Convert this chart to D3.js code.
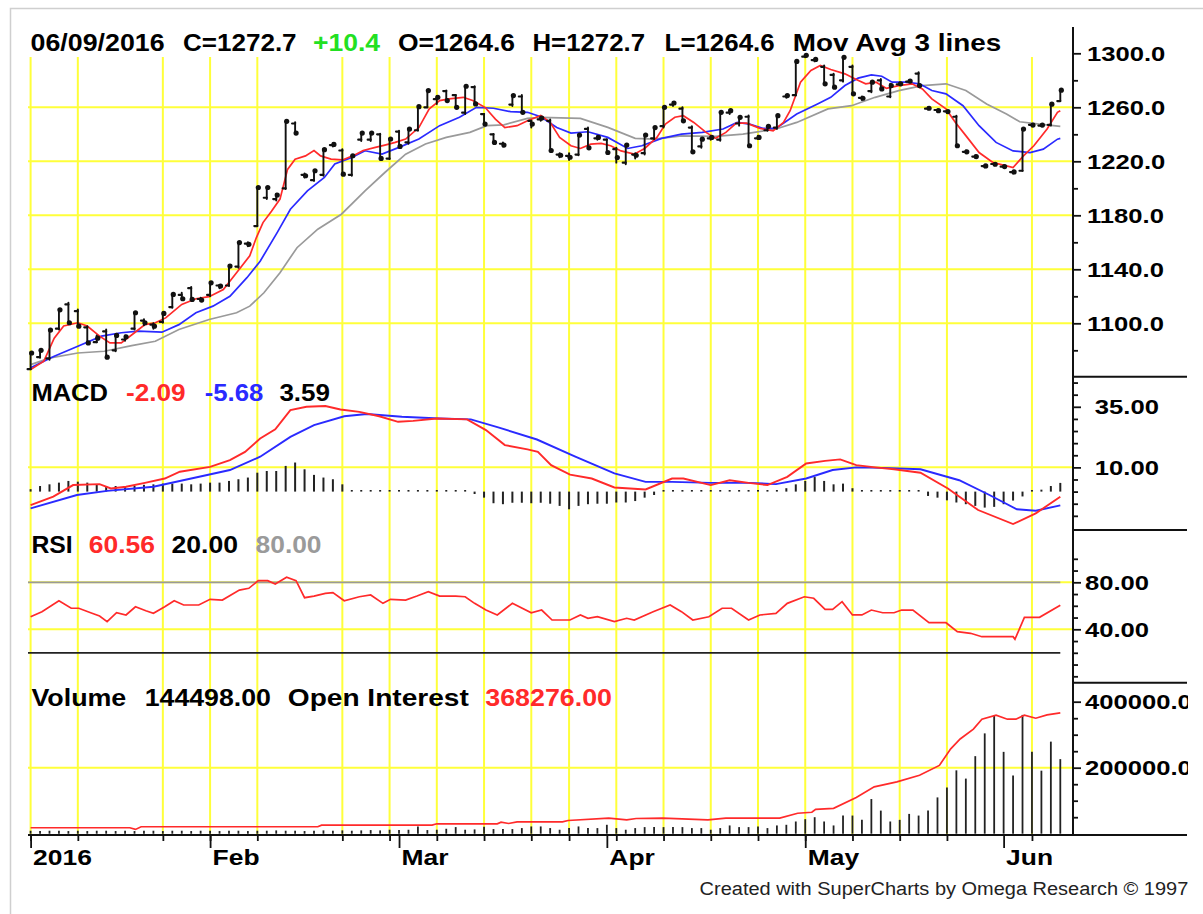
<!DOCTYPE html>
<html>
<head>
<meta charset="utf-8">
<script src="https://cdn.jsdelivr.net/npm/d3@7"></script>
<style>
  body { margin: 0; background: #fff; }
  svg { display: block; font-family: "Liberation Sans", Arial, sans-serif; }
</style>
</head>
<body>
<svg id="chart" width="1203" height="914"></svg>
<script>
// ---- daily bars, 04 Jan 2016 .. 09 Jun 2016 (trading-day index 0..109)
const opens = [1066,1075,1074,1096,1114,1109,1097,1086,1094,1080, 1088,1096,1102,1099,1101,1112,1121,1126,1118,1121,
  1128,1128,1142,1159,1172,1193,1192,1200,1248,1210, 1206,1210,1232,1228,1210,1236,1236,1240,1222,1242,
  1234,1243,1260,1266,1272,1269,1256,1275,1255,1240, 1233,1262,1268,1250,1251,1250,1225,1224,1225,1244,
  1237,1236,1229,1219,1225,1226,1237,1246,1262,1259, 1245,1231,1237,1236,1256,1248,1253,1237,1243,1245,
  1268,1269,1297.5,1295,1290,1284,1280,1290,1267,1272, 1280,1268,1277,1279,1285,1259,1258,1257,1253,1227,
  1223.5,1216.5,1218,1216,1212,1213,1247,1246.5,1247,1264.6];
const highs = [1078,1080.5,1095.4,1110.3,1115.2,1110.3,1097.9,1091,1095.4,1091.5, 1091,1108,1103,1100,1108,1121.4,1122.6,1127,1119,1130,
  1128.5,1143,1160,1160,1201,1201,1196,1249.6,1249,1211, 1213.5,1229,1233.5,1229,1224.5,1241,1241,1240.5,1236.5,1242.7,
  1243.9,1260.5,1272.4,1268.5,1272.4,1269.2,1275.6,1275.6,1255,1240.2, 1234,1269.2,1269.2,1250,1253,1251,1226,1226,1239.5,1245,
  1239,1236.4,1230,1232.7,1226,1239.4,1245,1260,1264,1260, 1246,1236.4,1238.5,1256.3,1258,1253,1254,1239,1246,1254,
  1269,1294,1299,1296,1291,1284.8,1297.2,1291,1268,1278.6, 1281,1277.4,1278.5,1280,1286,1260,1258.5,1257.5,1253.8,1228,
  1224.5,1217.5,1218.5,1217,1213,1243.9,1247.5,1247.5,1263.2,1272.7];
const lows = [1066,1074.5,1073,1095.4,1100.4,1097.9,1085.5,1086,1074.9,1079.3, 1087,1095.4,1098.5,1096,1100.4,1111.5,1118,1117.7,1116.5,1120,
  1126,1127.6,1141.2,1157,1172,1192,1191,1199.4,1240,1208, 1205.5,1209.3,1231,1210.5,1209.3,1235,1235,1222.1,1221.6,1231,
  1233,1242.7,1260,1262.5,1265,1260,1255,1262.5,1247.6,1234, 1231,1261,1256.3,1245,1250,1228,1223,1221,1224.5,1230,
  1236,1226.5,1219,1217.8,1222,1225,1236.4,1245,1261,1250, 1227,1230,1236,1235.2,1255,1246.4,1231.5,1236.5,1242.6,1244,
  1267,1268.7,1297,1294,1277.4,1275,1279,1270,1265.5,1271.2, 1273.6,1267.4,1276.5,1278.5,1276.1,1258.5,1256.5,1256,1231.5,1226,
  1222.5,1215.5,1217,1215.5,1211,1212.9,1246,1246,1246.4,1264.6];
const closes = [1078,1080,1095,1110,1100.4,1097.9,1085.5,1089,1074.9,1091, 1090,1107.8,1100.4,1097.9,1107.3,1121.4,1118.2,1117.7,1117.2,1130,
  1127.6,1142.4,1159.8,1158.5,1200.6,1200.6,1195,1249.6,1240.9,1209.3, 1213,1228.6,1232.5,1210.5,1224.1,1240.9,1240.9,1222.1,1236.5,1231,
  1243.9,1260.5,1272.4,1267.4,1265,1260,1275.6,1262.5,1247.6,1234, 1232,1268.7,1256.3,1247.6,1252,1228,1224.5,1223,1239.4,1230,
  1237.7,1226.5,1222.8,1232,1224.5,1239.4,1245,1260,1263.2,1250, 1227,1236.4,1237.7,1256.3,1257.5,1252.6,1231.5,1237.7,1245.9,1253.8,
  1268.7,1294,1298.5,1295.5,1277.4,1274.9,1297,1270,1266.7,1278.6, 1273.6,1276.1,1277.4,1279.4,1276.1,1259.3,1257.5,1256.8,1231.5,1227,
  1223.5,1216.6,1217.8,1216.1,1212.1,1243.9,1246.8,1246.8,1262.3,1272.7];

// ---- moving averages, [day index, value]
const maFast = [[0,1065.7],[1.4,1072],[2.5,1089],[3.5,1098],[5,1100.4],[6,1098],[7.3,1090.5],[8.4,1085.5],[9.6,1085.5],[11,1093],
  [12.1,1099],[13.2,1100.4],[14.3,1104],[16,1114],[17.5,1118.2],[18.9,1119.7],[20.4,1125],[21.8,1137.5],[23.2,1150],[23.9,1163.5],
  [24.6,1174.6],[25.5,1183],[26.4,1192],[27.2,1214],[28,1221.6],[29.1,1224],[30,1228],[30.7,1224],[31.8,1221.6],[33,1221],
  [34.1,1224],[35.2,1228],[36.5,1230.3],[37.5,1232],[38.6,1234],[39.7,1236.5],[41.1,1245],[42.2,1258.8],[43.3,1265],[44.3,1266.2],
  [45.8,1267.4],[46.8,1265],[48.1,1260],[49.2,1251.3],[50.2,1245],[51.5,1246.4],[52.6,1250],[54,1254],[55,1248.8],[56,1237.7],
  [57.2,1231.5],[58.2,1229.5],[59.3,1232.7],[60.4,1233.2],[61.4,1231.5],[62.5,1227.7],[63.9,1225.3],[65,1229.5],[66.3,1237.7],[67.2,1247.6],
  [68.2,1252.6],[69.1,1253.8],[70.2,1248.8],[71.5,1241.4],[72.5,1237],[73.6,1241.4],[74.7,1248.3],[75.8,1248.3],[77.2,1244.4],[78.6,1242.6],
  [79.7,1248.8],[80.4,1257.5],[81.5,1278.6],[82.6,1287.3],[83.6,1291],[84.7,1288],[86.2,1284.8],[87.4,1280.6],[88.4,1277.4],[89.5,1278.6],
  [90.6,1274],[91.9,1276],[93.3,1277.4],[94.4,1273.6],[95.4,1266.2],[96.9,1258.8],[97.9,1248.8],[99,1239],[100.4,1226.5],[101.9,1219],
  [103.3,1216.6],[104,1215.3],[105.1,1224],[106.2,1231.5],[107.6,1243.9],[108.7,1256.3],[109,1257.5]];
const maMid = [[0,1067],[2.5,1075.6],[5,1083],[7.5,1090.5],[9.6,1093],[11.4,1094.2],[13.9,1093.4],[15.7,1099],[17.5,1107.8],[19.3,1112.7],
  [21.1,1120],[22.9,1133.8],[24.3,1146],[26.1,1167.2],[27.5,1184.5],[29.3,1198.1],[31.1,1208],[32.2,1218],[34,1222.9],[35.4,1227.8],
  [37.2,1225.3],[39,1230.3],[41.1,1236.5],[43.3,1246.4],[45.4,1252.6],[47.2,1260],[49,1259.3],[50.8,1256.8],[52.6,1256.3],[54,1253],
  [55.7,1245.1],[57.2,1240.9],[59,1241.9],[61.1,1237.7],[63.2,1229.5],[64.7,1231.5],[66.8,1237],[68.9,1240.1],[71.1,1241.4],[73.3,1243.9],
  [74.8,1248.8],[76.1,1247.6],[77.5,1244.4],[78.9,1244.4],[81.1,1255],[83.3,1262.5],[84.7,1267.4],[86.2,1276.1],[87.6,1281.6],[89,1284],
  [90.1,1283],[91.2,1278.6],[92.6,1278.6],[94.1,1277.4],[95.4,1272.4],[96.9,1270],[98.7,1261.2],[100.4,1246.4],[102.2,1234],[104,1227.7],
  [105.8,1226.5],[107.2,1229],[108.7,1236.4],[109,1237]];
const maSlow = [[0,1069.4],[2.1,1074.4],[5,1078],[7.8,1079.3],[10.7,1083.5],[13.2,1086.7],[15.7,1095.4],[18.9,1102.8],[21.8,1107.8],[23.2,1112.7],
  [24.7,1122.6],[26.4,1137.5],[28.2,1156],[30.4,1169.7],[32.9,1180.8],[35.4,1198.1],[37.5,1211.7],[39.7,1225.3],[41.8,1232.8],[44,1237.7],
  [46.5,1241.4],[48.3,1246.4],[50.1,1247],[52.6,1251.8],[54,1252.6],[58.2,1251.8],[61.1,1245.1],[64,1237],[66,1236.4],[68.9,1238.9],
  [72.5,1238.4],[75.4,1240.1],[78.9,1243.9],[81.1,1248.8],[84.4,1258.8],[86.9,1261.2],[89.4,1267.4],[91.9,1272.4],[94.4,1276.1],[96.9,1277.4],
  [99,1272.4],[101.2,1262.5],[103.3,1255],[104.7,1249.3],[106.8,1247.6],[109,1245.9]];

// ---- MACD
const macdLine = [[0,-5.6],[2.4,-2.1],[4.5,2.7],[7.3,3.1],[8.5,1.3],[10.1,2],[12.1,3.6],[14.2,5.4],[15.8,8.2],[19,10.2],
  [21.1,13],[22.7,16.4],[24.3,21.9],[25.9,25.7],[27.5,33.6],[29.2,35],[31.2,35.3],[32.8,33.9],[34.8,32.9],[36.9,31.1],
  [38.9,28.8],[40.5,29.2],[43,30.2],[46.2,29.8],[48.2,25.4],[50.2,19.2],[52.6,17.4],[53.7,16.4],[55.1,10.9],[57.1,7],
  [59.4,5.4],[61.8,1.7],[65.1,0.9],[67.9,5.4],[69.1,5.4],[72,2.7],[74,4.7],[76,3.6],[78,2.7],[80.1,6.1],
  [82.1,11.6],[84.1,12.7],[85.7,13.3],[87.4,10.9],[89.4,10],[91.4,9.2],[94.2,7.8],[97.1,1.3],[100.3,-7.6],[104,-13.4],
  [106.4,-9],[109,-2.09]];
const macdSignal = [[0,-6.9],[4.9,-1.4],[8.1,0.3],[13,2],[17,5.4],[21.1,8.9],[24.3,14.4],[27.5,22.6],[30,27.4],[33.2,31.1],
  [35.6,32],[39.3,30.9],[43.3,30.2],[46.6,29.8],[49.5,26.5],[53.6,21.5],[57.6,14.5],[61.8,7.5],[65.1,4],[67.9,4],
  [72,3.6],[76,3.6],[78.9,3.1],[82.1,5.4],[84.9,8.9],[87.4,10],[90.2,9.8],[94.2,9.2],[98.3,4.7],[101.5,-1.4],
  [104.4,-7.3],[106.4,-7.9],[109,-5.68]];
const macdHist = [1.0,2.3,3.0,3.7,4.4,4.1,3.7,3.0,2.3,2.3, 2.3,2.3,2.8,3.0,3.3,3.3,3.3,3.0,3.3,3.7,
  3.7,4.4,5.1,5.8,7.8,8.5,8.5,10.6,12.0,9.2, 6.9,5.8,5.1,3.0,0.6,0.3,0.3,0.2,0.3,0.2,
  0.2,0.3,0.2,0.3,0.2,0.3,0.2,-1.0,-2.5,-4.8, -5.2,-4.6,-4.6,-4.8,-4.6,-5.0,-5.9,-7.3,-5.9,-5.2,
  -5.0,-5.0,-4.5,-4.5,-3.9,-2.5,-1.4,0.3,0.5,0.5, 0.2,0.2,0.3,0.2,0.2,0.3,0.2,0.2,0.3,0.2,
  1.4,3.0,4.4,6.0,4.4,3.0,3.3,1.4,0.3,0.2, 0.2,0.3,0.2,0.3,0.2,-1.8,-2.5,-3.6,-4.5,-5.2,
  -5.9,-6.6,-6.3,-5.2,-3.7,-2.0,-0.5,0.8,2.3,3.59];

// ---- RSI
const rsi = [[0,50.7],[1.2,55],[3,64.3],[4.3,57.9],[5.1,57.9],[6.5,53.6],[7.3,51.3],[8.1,46.5],[9.1,54.1],[10.1,52.2],
  [11.1,59.2],[12.2,55.8],[13,53.6],[14.2,59.2],[15.2,64.3],[16.2,60.7],[17.8,60.7],[19,65.5],[20.3,64.9],[22.1,73.4],
  [23.1,74.9],[24.1,81.4],[25.1,81.4],[25.9,78.6],[27.1,84.3],[28.1,81.4],[29,66.9],[30,68.3],[31.2,70.6],[32,71.2],
  [33.2,64.3],[34.8,67.7],[36,69.2],[37.3,62.1],[38.1,65.5],[39.7,64.9],[40.9,68.3],[42.1,72],[43.3,68.3],[45,68.3],
  [46,67.7],[47,62.1],[48.2,56.4],[49.4,52.2],[51,62.1],[53,54.1],[54.1,56.4],[55.2,47.9],[57.1,47.9],[58.2,52.2],
  [59,49.4],[60,50.7],[61.8,46.5],[63.1,49.4],[63.9,47.9],[65.9,55],[67.7,60.7],[68.9,55],[70.1,47.9],[71.8,50.7],
  [73.2,57.9],[74.2,57.9],[76,47.9],[77.2,52.2],[78.9,53.6],[80.1,62.1],[81.9,67.7],[82.9,66.4],[84.1,57],[84.9,57],
  [85.9,63.5],[87,52.2],[88,52.2],[89,56.4],[90.2,54.1],[91.4,54.1],[92.2,56.4],[93.4,56.4],[95.1,45.6],[96.9,45.6],
  [98.1,38],[99.5,36.6],[100.7,33.7],[104,33.7],[104.2,31.5],[105.2,50.2],[106.8,50.2],[109,60.56]];
const rsiLevels = [80, 20];

// ---- volume and open interest
const volume = [9000,8000,9000,9000,8000,9000,8000,9000,9000,8000, 9000,8000,9000,9000,8000,9000,9000,8000,9000,9000,
  8000,9000,9000,8000,9000,9000,10000,9000,9000,8000, 9000,10000,9000,10000,9000,10000,11000,10000,12000,11000,
  12000,22000,11000,12000,15000,20000,12000,13000,21000,14000, 14000,14000,17000,22000,22000,17000,12000,17000,22000,17000,
  17000,27000,17000,12000,17000,20000,20000,20000,20000,20000, 17000,17000,12000,17000,25000,20000,20000,22000,17000,25000,
  27000,37000,44000,50000,37000,25000,55000,55000,42000,105000, 70000,37000,42000,60000,55000,70000,110000,140000,192000,167000,
  235000,304000,357000,248000,176000,360000,248000,191000,279000,226000];
const openInterest = [[0,18000],[10.5,18000],[11.1,13000],[11.7,21000],[30.4,21000],[30.8,26000],[42.5,26000],[43,30000],[49.4,30000],[49.8,35000],
  [50.6,31000],[51.5,36000],[56.3,36000],[56.9,40000],[61.2,47000],[63.1,42000],[64.1,46000],[66.9,47000],[71.7,42000],[73.6,47000],
  [79.3,47000],[81.2,62000],[82.7,65000],[83.1,74000],[85,77000],[87.4,110000],[89.3,142000],[91.7,157000],[94.1,177000],[96.2,207000],
  [97.4,257000],[98.4,287000],[99.8,317000],[100.7,347000],[102.2,359000],[103.4,347000],[104.3,347000],[105.2,359000],[106.4,350000],[107.6,360000],
  [109,366000]];

// ---- axis ticks and labels
const weekTicks = [0,5,14,19,24,33,38,43,48,53,57,62,67,72,77,82,87,92,97,106];
const monthTicks = [0,19,39,61,82,103];
const monthLabels = ['2016','Feb','Mar','Apr','May','Jun'];
const priceTicks = [1300,1260,1220,1180,1140,1100];
const priceMinor = [1280,1240,1200,1160,1120,1080];
const macdTicks = [35,10];
const macdMinor = [45,40,30,25,20,15,5,0,-5,-10];
const rsiTicks = [80,40];
const rsiMinor = [100,90,70,60,50,30,20,10,0];
const volTicks = [400000,200000];
const volMinor = [350000,300000,250000,150000,100000,50000];

// ---- legend texts
const headerTexts = ['06/09/2016','C=1272.7','+10.4','O=1264.6','H=1272.7','L=1264.6','Mov Avg 3 lines'];
const macdTexts = ['MACD','-2.09','-5.68','3.59'];
const rsiTexts = ['RSI','60.56','20.00','80.00'];
const volTexts = ['Volume','144498.00','Open Interest','368276.00'];
const footerText = 'Created with SuperCharts by Omega Research \u00a9 1997';

// ---------------------------------------------------------------
const RED = '#ff2a2a', BLUE = '#2a2aff', GRAY = '#9a9a9a', YELLOW = '#ffff3a';
const LEFT = 28, AXIS_X = 1073, RIGHT = 1187, BOTTOM = 835;

const svg = d3.select('#chart');

const x = d3.scaleLinear().domain([0, 109]).range([30.6, 1060.3]);
const yPrice = d3.scaleLinear().domain([1100, 1300]).range([323.3, 53.3]);
const yMacd = d3.scaleLinear().domain([0, 35]).range([491.6, 406.8]);
const yRsi = d3.scaleLinear().domain([40, 80]).range([629.3, 582.3]);
const yVol = d3.scaleLinear().domain([0, 400000]).range([833.7, 701.7]);

svg.append('defs').append('clipPath').attr('id', 'frameClip')
  .append('rect').attr('x', 0).attr('y', 0).attr('width', RIGHT + 1).attr('height', 914);

// outer frame (top + left edge only)
svg.append('path').attr('d', 'M10.5,914V8.5H1203')
  .attr('fill', 'none').attr('stroke', '#cfcfcf').attr('stroke-width', 1.5);

// yellow grid
const grid = svg.append('g').attr('stroke', YELLOW).attr('stroke-width', 2);
grid.selectAll('.vg').data(weekTicks).join('line')
  .attr('x1', d => x(d)).attr('x2', d => x(d)).attr('y1', 57).attr('y2', BOTTOM);
const hLines = [].concat(
  [1260,1220,1180,1140,1100].map(v => yPrice(v)),
  [10].map(v => yMacd(v)),
  [80,40].map(v => yRsi(v)),
  [200000].map(v => yVol(v)));
grid.selectAll('.hg').data(hLines).join('line')
  .attr('x1', LEFT).attr('x2', AXIS_X).attr('y1', d => d).attr('y2', d => d);

// price panel
const priceLine = d3.line().x(d => x(d[0])).y(d => yPrice(d[1]));
[[maSlow, GRAY], [maMid, BLUE], [maFast, RED]].forEach(([s, c]) => {
  svg.append('path').datum(s).attr('d', priceLine)
    .attr('fill', 'none').attr('stroke', c).attr('stroke-width', 1.7);
});

const barG = svg.append('g').attr('stroke', '#111').attr('stroke-linecap', 'round');
const bar = barG.selectAll('g').data(d3.range(closes.length)).join('g');
bar.append('line')
  .attr('x1', i => x(i)).attr('x2', i => x(i))
  .attr('y1', i => yPrice(Math.max(highs[i], opens[i], closes[i])))
  .attr('y2', i => yPrice(Math.min(lows[i], opens[i], closes[i])))
  .attr('stroke-width', 1.9);
bar.append('line')
  .attr('x1', i => x(i) - 3).attr('x2', i => x(i))
  .attr('y1', i => yPrice(opens[i])).attr('y2', i => yPrice(opens[i]))
  .attr('stroke-width', 2.2);
bar.append('circle')
  .attr('cx', i => x(i) + 1).attr('cy', i => yPrice(closes[i])).attr('r', 2.6)
  .attr('fill', '#111').attr('stroke', 'none');

// MACD panel
svg.append('g').attr('stroke', '#222').attr('stroke-width', 2)
  .selectAll('line').data(macdHist).join('line')
  .attr('x1', (d, i) => x(i)).attr('x2', (d, i) => x(i))
  .attr('y1', yMacd(0))
  .attr('y2', d => {
    const y = yMacd(d);
    return Math.abs(y - yMacd(0)) < 1.6 ? yMacd(0) - 1.6 : y;
  });
const macdPath = d3.line().x(d => x(d[0])).y(d => yMacd(d[1]));
[[macdSignal, BLUE], [macdLine, RED]].forEach(([s, c]) => {
  svg.append('path').datum(s).attr('d', macdPath)
    .attr('fill', 'none').attr('stroke', c).attr('stroke-width', 1.9);
});

// RSI panel
svg.append('g').selectAll('line').data(rsiLevels).join('line')
  .attr('x1', LEFT).attr('x2', x(109))
  .attr('y1', d => yRsi(d)).attr('y2', d => yRsi(d))
  .attr('stroke', (d, i) => i === 0 ? GRAY : '#222').attr('stroke-width', 1.8);
svg.append('path').datum(rsi)
  .attr('d', d3.line().x(d => x(d[0])).y(d => yRsi(d[1])))
  .attr('fill', 'none').attr('stroke', RED).attr('stroke-width', 1.7);

// volume panel
svg.append('g').attr('stroke', '#222').attr('stroke-width', 1.8)
  .selectAll('line').data(volume).join('line')
  .attr('x1', (d, i) => x(i)).attr('x2', (d, i) => x(i))
  .attr('y1', yVol(0)).attr('y2', d => yVol(d));
svg.append('path').datum(openInterest)
  .attr('d', d3.line().x(d => x(d[0])).y(d => yVol(d[1])))
  .attr('fill', 'none').attr('stroke', RED).attr('stroke-width', 1.7);

// axes frame
svg.append('line').attr('x1', AXIS_X).attr('x2', AXIS_X).attr('y1', 27).attr('y2', BOTTOM)
  .attr('stroke', '#111').attr('stroke-width', 2);
svg.append('line').attr('x1', LEFT).attr('x2', RIGHT).attr('y1', BOTTOM).attr('y2', BOTTOM)
  .attr('stroke', '#111').attr('stroke-width', 2);
svg.append('g').selectAll('line').data([376.7, 530, 682.7]).join('line')
  .attr('x1', AXIS_X).attr('x2', RIGHT).attr('y1', d => d).attr('y2', d => d)
  .attr('stroke', '#111').attr('stroke-width', 2);

function stretch(sel, k) {
  sel.each(function () {
    const w = this.getComputedTextLength();
    d3.select(this).attr('textLength', w * k).attr('lengthAdjust', 'spacingAndGlyphs');
  });
}

const rightAxes = svg.append('g').attr('clip-path', 'url(#frameClip)');
function rightAxis(scale, major, minor, fmt, anchor, dx) {
  const g = rightAxes.append('g').attr('transform', `translate(${AXIS_X},0)`);
  g.call(d3.axisRight(scale).tickValues(minor).tickSize(5).tickFormat(''))
    .call(a => a.select('.domain').remove());
  const m = rightAxes.append('g').attr('transform', `translate(${AXIS_X},0)`);
  m.call(d3.axisRight(scale).tickValues(major).tickSize(8).tickFormat(fmt))
    .call(a => a.select('.domain').remove());
  rightAxes.selectAll('.tick line').attr('stroke', '#111').attr('stroke-width', 1.8);
  const t = m.selectAll('text')
    .attr('font-family', '"Liberation Sans", Arial, sans-serif')
    .attr('font-size', 21).attr('font-weight', 'bold').attr('fill', '#000')
    .attr('text-anchor', anchor).attr('x', dx);
  stretch(t, 1.22);
}
rightAxis(yPrice, priceTicks, priceMinor, d3.format('.1f'), 'start', 14);
rightAxis(yMacd, macdTicks, macdMinor, d3.format('.2f'), 'end', 86);
rightAxis(yRsi, rsiTicks, rsiMinor, d3.format('.2f'), 'start', 12);
rightAxis(yVol, volTicks, volMinor, d3.format('.1f'), 'start', 12);

// bottom axis
const xb = svg.append('g').attr('transform', `translate(0,${BOTTOM})`);
xb.append('g').call(d3.axisBottom(x).tickValues(weekTicks).tickSize(6).tickFormat(''))
  .call(a => a.select('.domain').remove());
const xm = xb.append('g').call(d3.axisBottom(x).tickValues(monthTicks).tickSize(13)
    .tickFormat((d, i) => monthLabels[i]))
  .call(a => a.select('.domain').remove());
xb.selectAll('.tick line').attr('stroke', '#111').attr('stroke-width', 1.8);
const mt = xm.selectAll('text')
  .attr('font-family', '"Liberation Sans", Arial, sans-serif')
  .attr('font-size', 22).attr('font-weight', 'bold').attr('fill', '#000')
  .attr('text-anchor', 'start').attr('x', 2).attr('y', 30).attr('dy', 0);
stretch(mt, 1.2);

// legends
function row(texts, xs, ws, colors, y, size, weight) {
  svg.append('g').selectAll('text').data(texts).join('text')
    .attr('x', (d, i) => xs[i]).attr('y', y)
    .attr('font-size', size).attr('font-weight', weight || 'bold')
    .attr('fill', (d, i) => colors[i])
    .attr('textLength', (d, i) => ws[i]).attr('lengthAdjust', 'spacingAndGlyphs')
    .text(d => d);
}
row(headerTexts, [30.6,183,313,398,532.5,664.6,792.8], [134,113.6,67,117,112.5,110,208.5],
  ['#000','#000','#22e022','#000','#000','#000','#000'], 50.7, 24);
row(macdTexts, [31.4,126,204.7,279.4], [76.6,59.6,58.6,50.6], ['#000', RED, BLUE, '#000'], 400.7, 24);
row(rsiTexts, [31.4,88.8,171.4,255.6], [41.3,66.2,66.6,65.9], ['#000', RED, '#000', GRAY], 553.3, 24);
row(volTexts, [31.4,144.7,287.8,485.3], [94.9,126.3,181,126.7], ['#000','#000','#000', RED], 705.7, 24);
row([footerText], [699.6], [488.7], ['#222'], 895, 18, 'normal');
</script>
</body>
</html>
